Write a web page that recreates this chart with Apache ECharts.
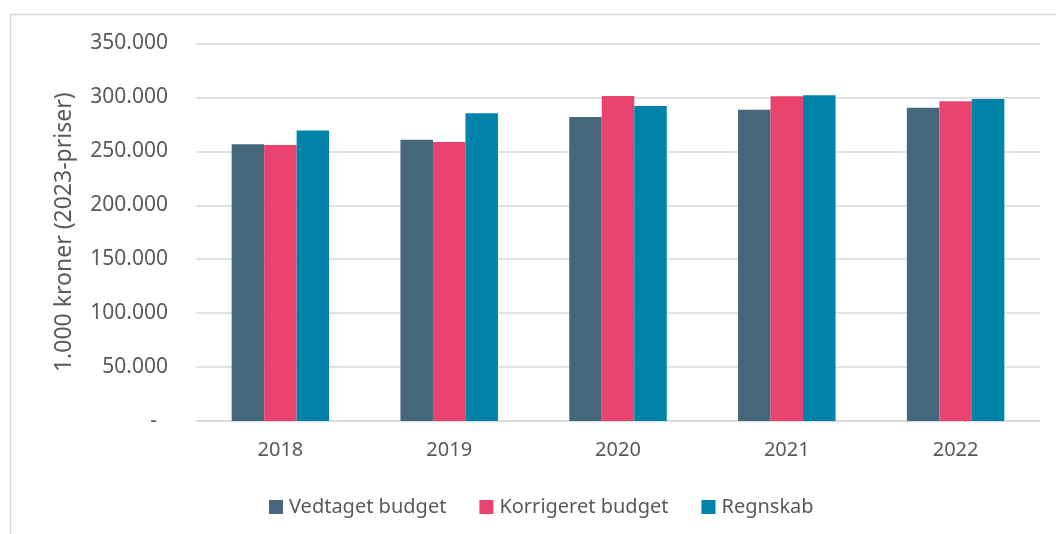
<!DOCTYPE html>
<html>
<head>
<meta charset="utf-8">
<script src="https://cdn.jsdelivr.net/npm/echarts@6/dist/echarts.min.js"></script>
<style>
  html, body { margin: 0; padding: 0; background: #fff; }
  #chart { width: 1056px; height: 534px; }
</style>
</head>
<body>
<div id="chart"></div>
<script>
const years = ['2018', '2019', '2020', '2021', '2022']
const vedtaget = [256500, 260800, 281900, 288600, 290500]
const korrigeret = [255800, 258700, 301300, 301000, 296400]
const regnskab = [269400, 285300, 292000, 302000, 298500]

const seriesNames = ['Vedtaget budget', 'Korrigeret budget', 'Regnskab']
const colors = ['#44677b', '#ea4370', '#0083a8']

// dansk tusindtalsseparator
function fmt(v) {
  if (v === 0) return '-  '
  return String(v).replace(/\B(?=(\d{3})+(?!\d))/g, '.')
}

const chart = echarts.init(document.getElementById('chart'))
const font = 'Noto Sans'

chart.setOption({
  animation: false,
  textStyle: { fontFamily: font },
  graphic: [{
    type: 'rect',
    shape: { x: 10.5, y: 14.5, width: 1100, height: 600 },
    style: { fill: null, stroke: '#d9d9d9', lineWidth: 1.5 },
    silent: true
  }],
  grid: { left: 196, right: 16, top: 43.5, bottom: 113 },
  legend: {
    data: seriesNames,
    top: 492,
    left: 264,
    itemWidth: 14,
    itemHeight: 14,
    itemGap: 33,
    icon: 'rect',
    textStyle: { fontSize: 20, color: '#595959', fontFamily: font, padding: [0, 0, 0, 1] }
  },
  xAxis: {
    type: 'category',
    data: years,
    axisTick: { show: false },
    axisLine: { lineStyle: { color: '#d9d9d9', width: 1.5 } },
    axisLabel: { fontSize: 20, color: '#595959', margin: 19, fontFamily: font }
  },
  yAxis: {
    type: 'value',
    min: 0,
    max: 350000,
    interval: 50000,
    name: '1.000 kroner (2023-priser)',
    nameLocation: 'middle',
    nameGap: 120,
    nameRotate: 90,
    nameTextStyle: { fontSize: 23, color: '#595959', fontFamily: font },
    axisLabel: {
      fontSize: 21,
      color: '#595959',
      margin: 28,
      fontFamily: font,
      formatter: fmt
    },
    splitLine: { lineStyle: { color: '#d9d9d9', width: 1.5 } }
  },
  series: [
    { name: seriesNames[0], type: 'bar', data: vedtaget, barWidth: 32.5, barGap: '0%',
      itemStyle: { color: colors[0] } },
    { name: seriesNames[1], type: 'bar', data: korrigeret, barWidth: 32.5, barGap: '0%',
      itemStyle: { color: colors[1] } },
    { name: seriesNames[2], type: 'bar', data: regnskab, barWidth: 32.5, barGap: '0%',
      itemStyle: { color: colors[2] } }
  ]
})
</script>
</body>
</html>
